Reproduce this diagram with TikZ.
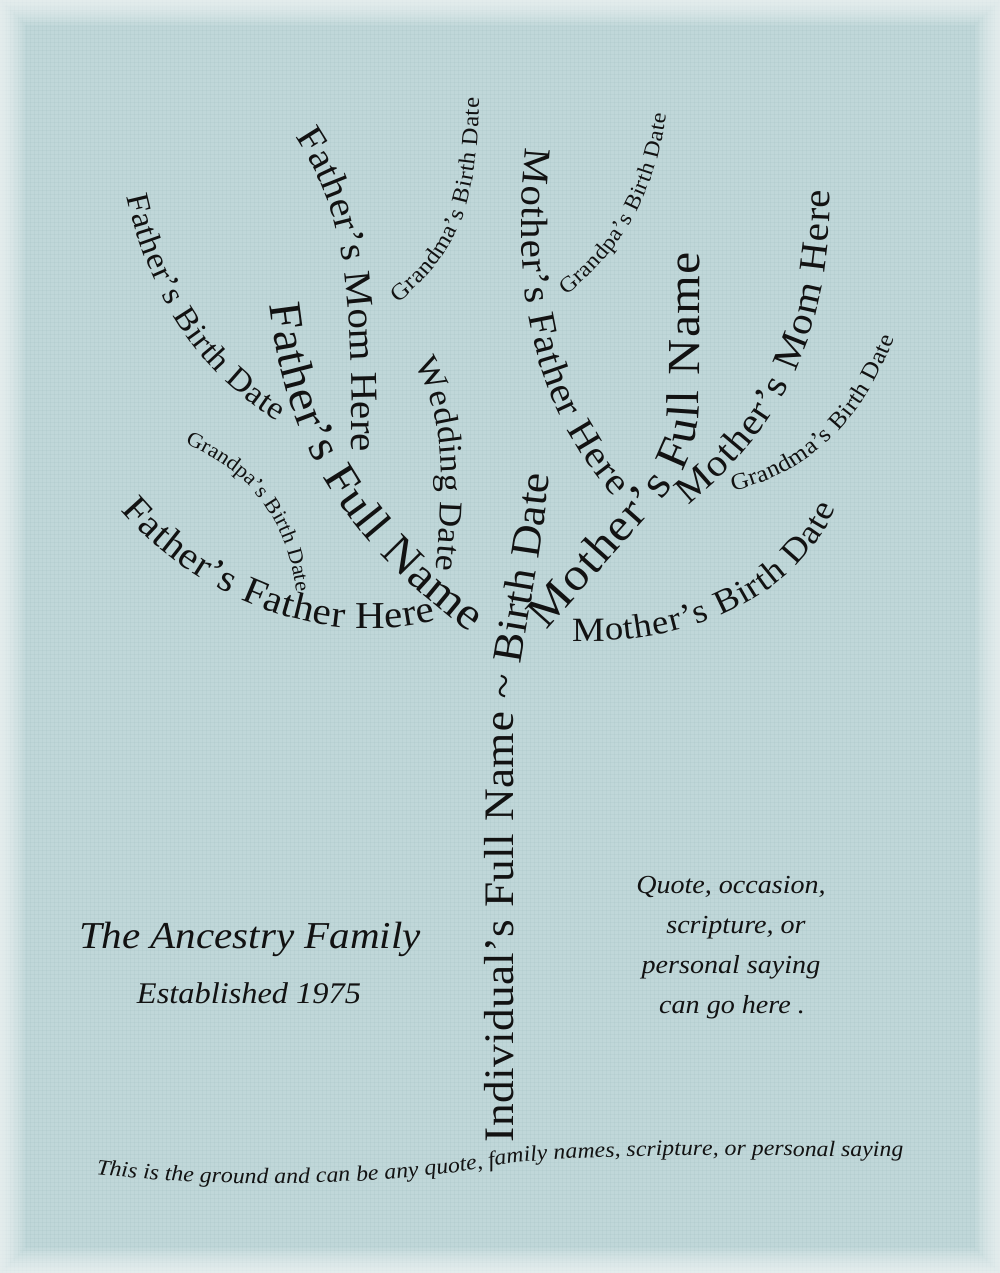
\documentclass[tikz,border=0pt]{standalone}
\usepackage{fontspec}
\setmainfont{Liberation Serif}[FakeStretch=1.08]
\usetikzlibrary{decorations.text}

\definecolor{paper}{RGB}{192,215,217}
\definecolor{weave}{RGB}{120,160,165}
\definecolor{ink}{RGB}{18,18,18}

\tikzset{
  branch/.style n args={2}{decorate, decoration={text along path, text align=fit to path, text color=ink,
    text={|\fontsize{#1}{#1}\selectfont|#2}}},
  groundline/.style n args={2}{decorate, decoration={text along path, text align=fit to path, text color=ink,
    text={|\fontsize{#1}{#1}\selectfont\itshape|#2}}},
  script/.style={text=ink, font=\fontsize{#1}{#1}\selectfont\itshape, anchor=base, inner sep=0pt},
}

\begin{document}
\begin{tikzpicture}[x=1pt, y=-1pt]
  \useasboundingbox (0,0) rectangle (1000,1273);
  % Paper background
  \fill[paper] (0,0) rectangle (1000,1273);
  % Canvas weave
  \begin{scope}[weave, line width=0.8, opacity=0.08]
    \foreach \x in {2,6,...,998} \draw (\x,0) -- (\x,1273);
    \foreach \y in {2,6,...,1270} \draw (0,\y) -- (1000,\y);
  \end{scope}
  % Faded edges
  \foreach \i in {1,...,10}
    \draw[white, line width=5*\i, opacity=0.09] (0,0) rectangle (1000,1273);
  % Trunk
  \path[branch={42}{Individual's Full Name {\textasciitilde} Birth Date}]
    (513,1142) -- (513,740) .. controls (513,680) and (543,560) .. (549,474);
  % Father's side
  \path[branch={46}{Father's Full Name}]
    (270,304) .. controls (282,408) and (314,518) .. (470,633);
  \path[branch={38}{Father's Mom Here}]
    (295,137) .. controls (340,205) and (352,260) .. (352,452);
  \path[branch={23}{Grandma's Birth Date}]
    (398,303) .. controls (452,258) and (478,215) .. (479,98);
  \path[branch={32}{Father's Birth Date}]
    (127,196) .. controls (145,280) and (190,370) .. (278,421);
  \path[branch={38}{Father's Father Here}]
    (121,510) .. controls (190,592) and (320,652) .. (436,620);
  \path[branch={21}{Grandpa's Birth Date}]
    (185,444) .. controls (240,468) and (284,506) .. (296,590);
  % Wedding date between the parents
  \path[branch={33}{Wedding Date}]
    (413,364) .. controls (440,398) and (447,468) .. (436,570);
  % Mother's side
  \path[branch={46}{Mother's Full Name}]
    (546,630) -- (640,525) .. controls (680,480) and (698,460) .. (699,400) -- (700,252);
  \path[branch={38}{Mother's Father Here}]
    (526,148) .. controls (512,290) and (530,400) .. (614,497);
  \path[branch={22}{Grandpa's Birth Date}]
    (566,295) .. controls (615,258) and (655,200) .. (666,114);
  \path[branch={38}{Mother's Mom Here}]
    (688,505) .. controls (780,430) and (830,340) .. (830,190);
  \path[branch={23.5}{Grandma's Birth Date}]
    (733,491) .. controls (800,475) and (860,430) .. (894,338);
  \path[branch={34}{Mother's Birth Date}]
    (572,641) .. controls (670,645) and (790,610) .. (836,508);
  % Family name, left
  \node[script=38] (family) at (250,948) {The Ancestry Family};
  \node[script=30] (est) at (249,1003) {Established 1975};
  % Saying, right
  \node[script=26] (q1) at (731,893) {Quote, occasion,};
  \node[script=26] (q2) at (736,933) {scripture, or};
  \node[script=26] (q3) at (731,973) {personal saying};
  \node[script=26] (q4) at (732,1013) {can go here .};
  % Ground
  \path[groundline={22}{This is the ground and can be any quote, family names, scripture, or personal saying}]
    (96,1174) .. controls (220,1190) and (400,1185) .. (500,1165) .. controls (600,1150) and (800,1158) .. (903,1156);
\end{tikzpicture}
\end{document}
